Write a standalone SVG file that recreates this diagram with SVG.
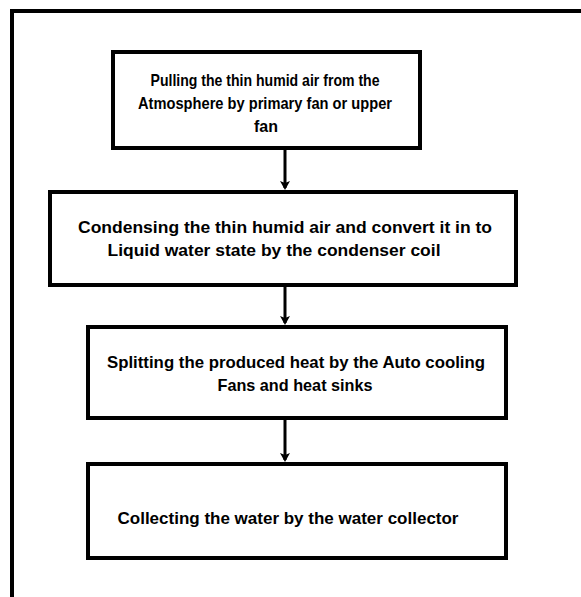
<svg xmlns="http://www.w3.org/2000/svg" width="581" height="597" viewBox="0 0 581 597">
<style>
.box{fill:#fff;stroke:#000;stroke-width:4}
.t{font-family:"Liberation Sans",Arial,sans-serif;font-weight:bold;fill:#000;text-anchor:middle}
.s{font-size:16.5px}
.l{font-size:17px}
.c{stroke:#000;stroke-width:3;fill:none}
</style>
<defs>
<marker id="ah" markerWidth="10" markerHeight="10" refX="7" refY="5" orient="auto" markerUnits="userSpaceOnUse">
<path d="M0,0 L9,5 L0,10 L2,5 Z" fill="#000"/>
</marker>
</defs>
<rect width="581" height="597" fill="#fff"/>
<g id="frame">
<path d="M12,597 V11 H581" fill="none" stroke="#000" stroke-width="4"/>
</g>
<g id="connectors">
<line class="c" x1="285" y1="148" x2="285" y2="188" marker-end="url(#ah)"/>
<line class="c" x1="285" y1="285" x2="285" y2="323" marker-end="url(#ah)"/>
<line class="c" x1="285" y1="418" x2="285" y2="460" marker-end="url(#ah)"/>
</g>
<g id="n1">
<rect class="box" x="113" y="52" width="307" height="96"/>
<text class="t s" x="265" y="86" textLength="229" lengthAdjust="spacingAndGlyphs">Pulling the thin humid air from the</text>
<text class="t s" x="265" y="109" textLength="254" lengthAdjust="spacingAndGlyphs">Atmosphere by primary fan or upper</text>
<text class="t s" x="266" y="132" textLength="24" lengthAdjust="spacingAndGlyphs">fan</text>
</g>
<g id="n2">
<rect class="box" x="50" y="192" width="466" height="93"/>
<text class="t l" x="285" y="233" textLength="414" lengthAdjust="spacingAndGlyphs">Condensing the thin humid air and convert it in to</text>
<text class="t l" x="274" y="256" textLength="333" lengthAdjust="spacingAndGlyphs">Liquid water state by the condenser coil</text>
</g>
<g id="n3">
<rect class="box" x="88" y="327" width="418" height="91"/>
<text class="t l" x="296" y="368" textLength="378" lengthAdjust="spacingAndGlyphs">Splitting the produced heat by the Auto cooling</text>
<text class="t l" x="295" y="391" textLength="155" lengthAdjust="spacingAndGlyphs">Fans and heat sinks</text>
</g>
<g id="n4">
<rect class="box" x="88" y="464" width="418" height="94"/>
<text class="t l" x="288" y="524" textLength="341" lengthAdjust="spacingAndGlyphs">Collecting the water by the water collector</text>
</g>
</svg>
